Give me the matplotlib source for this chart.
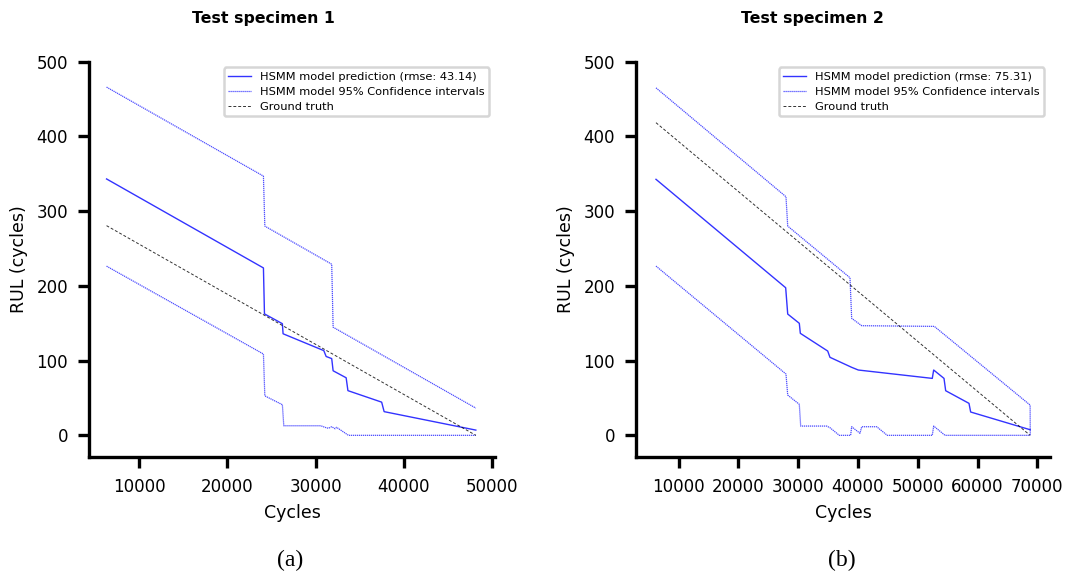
import matplotlib
matplotlib.use("Agg")
import matplotlib.pyplot as plt

# ---- Test specimen 1 -------------------------------------------------------
s1_pred_x = [6282, 24090, 24207, 26240, 26320, 30940, 31210, 31840, 32000,
             33480, 33680, 37510, 37790, 48200]
s1_pred_y = [343.1, 224.0, 162.5, 149.4, 135.9, 113.4, 105.5, 102.7, 86.4,
             77.0, 59.8, 44.4, 31.7, 7.0]

s1_upper_x = [6282, 24090, 24247, 31840, 32000, 48200]
s1_upper_y = [466.0, 346.9, 280.0, 229.0, 144.7, 36.4]

s1_lower_x = [6282, 24090, 24247, 26240, 26400, 30600, 31080, 31460, 31840,
              32220, 32400, 33740, 48200]
s1_lower_y = [226.4, 108.8, 52.8, 41.0, 12.8, 12.8, 10.7, 9.4, 11.5,
              8.8, 10.7, 0.0, 0.0]

s1_truth_x = [6282, 48200]
s1_truth_y = [280.6, 0.0]

s1_rmse = 43.14

# ---- Test specimen 2 -------------------------------------------------------
s2_pred_x = [6200, 27900, 28240, 30180, 30350, 34930, 35310, 38940, 40050,
             52430, 52660, 54390, 54670, 58570, 58850, 68800]
s2_pred_y = [342.6, 197.5, 162.3, 149.9, 136.5, 112.8, 104.4, 91.0, 87.4,
             76.2, 87.4, 76.2, 59.7, 42.8, 31.2, 7.5]

s2_upper_x = [6200, 27950, 28240, 38660, 38940, 40620, 52770, 68800, 68820]
s2_upper_y = [465.0, 319.3, 280.0, 210.9, 156.6, 146.7, 145.8, 40.5, 0.0]

s2_lower_x = [6200, 27950, 28240, 30180, 30410, 34760, 35310, 36870, 38770,
              38940, 40330, 40620, 43130, 44900, 52430, 52660, 54560, 68820]
s2_lower_y = [226.5, 82.0, 53.9, 41.5, 12.4, 12.4, 10.2, 0.0, 0.0,
              11.5, 2.7, 11.5, 11.5, 0.0, 0.0, 12.4, 0.0, 0.0]

s2_truth_x = [6200, 68800]
s2_truth_y = [418.4, 0.0]

s2_rmse = 75.31

yticks = [0, 100, 200, 300, 400, 500]
s1_xticks = [10000, 20000, 30000, 40000, 50000]
s2_xticks = [10000, 20000, 30000, 40000, 50000, 60000, 70000]

plt.rcParams["font.family"] = "DejaVu Sans"

fig = plt.figure(figsize=(10.72, 5.76), dpi=100)
ax1 = fig.add_axes([89 / 1072, 119.3 / 576, 406 / 1072, 395 / 576])
ax2 = fig.add_axes([636 / 1072, 119.3 / 576, 414 / 1072, 395 / 576])


def draw(ax, px, py, ux, uy, lx, ly, tx, ty, rmse, xticks, xlim):
    ax.plot(px, py, color="blue", lw=1.0, alpha=0.8,
            label=f"HSMM model prediction (rmse: {rmse:.2f})")
    ax.plot(ux, uy, color="blue", lw=0.9, ls=(0, (1, 0.6)), alpha=0.7,
            label="HSMM model 95% Confidence intervals")
    ax.plot(lx, ly, color="blue", lw=0.9, ls=(0, (1, 0.6)), alpha=0.7)
    ax.plot(tx, ty, color="black", lw=0.7, ls=(0, (3, 2)), alpha=0.8,
            label="Ground truth")
    ax.set_xlim(*xlim)
    ax.set_ylim(-28.6, 500)
    ax.set_xticks(xticks)
    ax.set_yticks(yticks)
    for side in ("top", "right"):
        ax.spines[side].set_visible(False)
    for side in ("left", "bottom"):
        ax.spines[side].set_linewidth(2.4)
    ax.tick_params(axis="both", length=8, width=2.4, pad=7, labelsize=12)
    ax.set_xlabel("Cycles", fontsize=12.5, labelpad=6)
    ax.set_ylabel("RUL (cycles)", fontsize=12.5, labelpad=6)
    leg = ax.legend(loc="upper right", fontsize=8.2, frameon=True,
                    fancybox=True, borderpad=0.4, labelspacing=0.42,
                    bbox_to_anchor=(1.0, 1.0))
    leg.get_frame().set_edgecolor("0.8")
    leg.get_frame().set_linewidth(1.8)


draw(ax1, s1_pred_x, s1_pred_y, s1_upper_x, s1_upper_y, s1_lower_x,
     s1_lower_y, s1_truth_x, s1_truth_y, s1_rmse, s1_xticks, (4290, 50375))
draw(ax2, s2_pred_x, s2_pred_y, s2_upper_x, s2_upper_y, s2_lower_x,
     s2_lower_y, s2_truth_x, s2_truth_y, s2_rmse, s2_xticks, (2856, 72125))

fig.text(263 / 1072, 1 - 18 / 576, "Test specimen 1", ha="center",
         va="center", fontsize=11.3, fontweight="bold")
fig.text(812 / 1072, 1 - 18 / 576, "Test specimen 2", ha="center",
         va="center", fontsize=11.3, fontweight="bold")

fig.text(290 / 1072, 1 - 560 / 576, "(a)", ha="center", va="center",
         fontsize=17, family="Liberation Serif")
fig.text(842 / 1072, 1 - 560 / 576, "(b)", ha="center", va="center",
         fontsize=17, family="Liberation Serif")

fig.savefig("out.png", dpi=100)
